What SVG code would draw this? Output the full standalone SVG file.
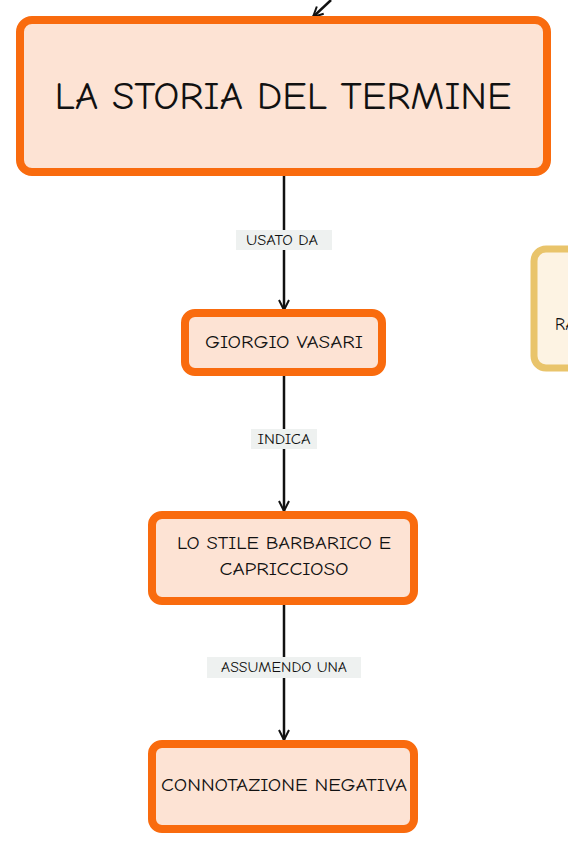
<svg xmlns="http://www.w3.org/2000/svg" width="568" height="852" viewBox="0 0 568 852">
<style>
.node rect{fill:#fde3d4;stroke:#f96b0e;stroke-width:8}
.t{font-family:"Comic Sans MS","Comic Neue","Noto Sans",sans-serif;fill:#111;text-anchor:middle}
.lbl rect{fill:#eef1f0}
.lbl text{font-family:"Comic Sans MS","Comic Neue","Noto Sans",sans-serif;font-size:14px;fill:#111;text-anchor:middle}
.c{stroke:#111;stroke-width:2.5;fill:none}
</style>
<defs>
<marker id="arr" viewBox="0 0 12 12" refX="11" refY="6" markerWidth="12" markerHeight="12" markerUnits="userSpaceOnUse" orient="auto">
<path d="M1,1 L11,6 L1,11" fill="none" stroke="#111" stroke-width="2"/>
</marker>
</defs>
<rect width="568" height="852" fill="#ffffff"/>
<g id="connectors">
<path class="c" d="M331,0 L313,17" marker-end="url(#arr)"/>
<path class="c" d="M284,176 L284,310" marker-end="url(#arr)"/>
<path class="c" d="M284,376 L284,511" marker-end="url(#arr)"/>
<path class="c" d="M284,605 L284,740" marker-end="url(#arr)"/>
<g class="lbl"><rect x="236" y="230" width="96" height="20"/><text x="282" y="245" textLength="72" lengthAdjust="spacingAndGlyphs">USATO DA</text></g>
<g class="lbl"><rect x="251" y="429" width="66" height="20"/><text x="284" y="444" textLength="53" lengthAdjust="spacingAndGlyphs">INDICA</text></g>
<g class="lbl"><rect x="207" y="657" width="154" height="21"/><text x="284" y="672" textLength="126" lengthAdjust="spacingAndGlyphs">ASSUMENDO UNA</text></g>
</g>
<g id="n-storia" class="node"><rect x="20" y="20" width="527" height="152" rx="12"/><text class="t" x="283" y="109" font-size="38" textLength="457" lengthAdjust="spacingAndGlyphs">LA STORIA DEL TERMINE</text></g>
<g id="n-vasari" class="node"><rect x="185" y="313" width="197" height="59" rx="10"/><text class="t" x="284" y="348" font-size="17" textLength="158" lengthAdjust="spacingAndGlyphs">GIORGIO VASARI</text></g>
<g id="n-stile" class="node"><rect x="152" y="515" width="262" height="86" rx="10"/><text class="t" x="284" y="549" font-size="17" textLength="214" lengthAdjust="spacingAndGlyphs">LO STILE BARBARICO E</text><text class="t" x="284" y="575" font-size="17" textLength="129" lengthAdjust="spacingAndGlyphs">CAPRICCIOSO</text></g>
<g id="n-negativa" class="node"><rect x="152" y="744" width="262" height="85" rx="10"/><text class="t" x="284" y="791" font-size="17" textLength="246" lengthAdjust="spacingAndGlyphs">CONNOTAZIONE NEGATIVA</text></g>
<g id="n-right"><rect x="534" y="249" width="100" height="119" rx="12" fill="#fdf3e3" stroke="#e9c46b" stroke-width="7"/><text class="t" x="555" y="330" font-size="17" style="text-anchor:start">RA</text></g>
</svg>
